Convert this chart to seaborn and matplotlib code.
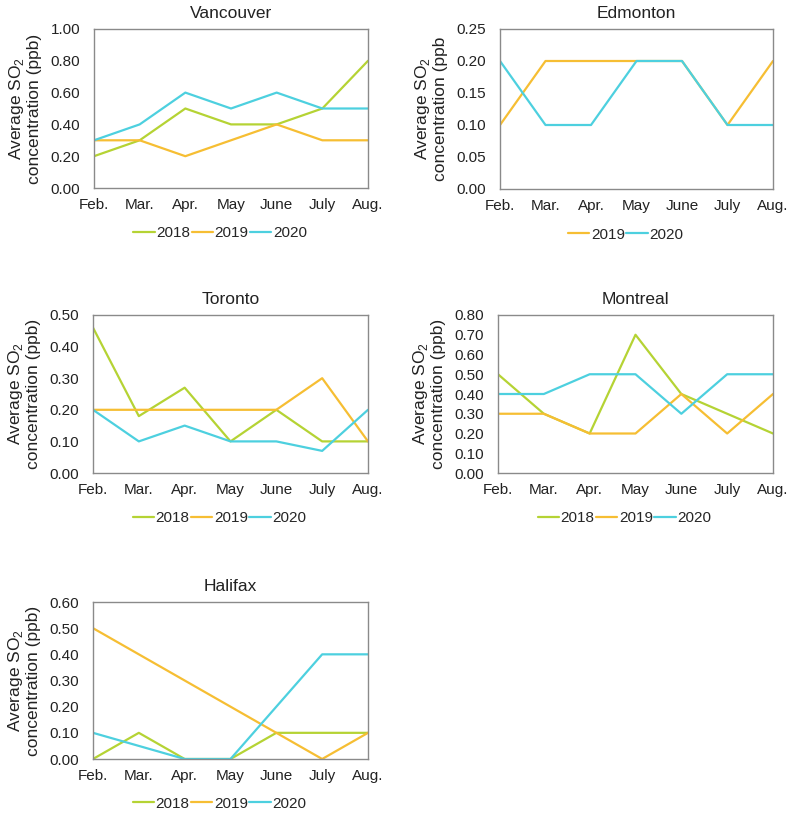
import matplotlib
matplotlib.use("Agg")
import matplotlib.pyplot as plt
import seaborn as sns
import pandas as pd

months = ["Feb.", "Mar.", "Apr.", "May", "June", "July", "Aug."]

vancouver_2018 = [0.20, 0.30, 0.50, 0.40, 0.40, 0.50, 0.80]
vancouver_2019 = [0.30, 0.30, 0.20, 0.30, 0.40, 0.30, 0.30]
vancouver_2020 = [0.30, 0.40, 0.60, 0.50, 0.60, 0.50, 0.50]

edmonton_2019 = [0.10, 0.20, 0.20, 0.20, 0.20, 0.10, 0.20]
edmonton_2020 = [0.20, 0.10, 0.10, 0.20, 0.20, 0.10, 0.10]

toronto_2018 = [0.46, 0.18, 0.27, 0.10, 0.20, 0.10, 0.10]
toronto_2019 = [0.20, 0.20, 0.20, 0.20, 0.20, 0.30, 0.10]
toronto_2020 = [0.20, 0.10, 0.15, 0.10, 0.10, 0.07, 0.20]

montreal_2018 = [0.50, 0.30, 0.20, 0.70, 0.40, 0.30, 0.20]
montreal_2019 = [0.30, 0.30, 0.20, 0.20, 0.40, 0.20, 0.40]
montreal_2020 = [0.40, 0.40, 0.50, 0.50, 0.30, 0.50, 0.50]

halifax_2018 = [0.00, 0.10, 0.00, 0.00, 0.10, 0.10, 0.10]
halifax_2019 = [0.50, 0.40, 0.30, 0.20, 0.10, 0.00, 0.10]
halifax_2020 = [0.10, 0.05, 0.00, 0.00, 0.20, 0.40, 0.40]

palette = {"2018": "#B5D334", "2019": "#F6BE33", "2020": "#4DD0DF"}

panels = [
    ("Vancouver", {"2018": vancouver_2018, "2019": vancouver_2019, "2020": vancouver_2020},
     1.0, 0.2, "concentration (ppb)", (94, 368, 29, 188)),
    ("Edmonton", {"2019": edmonton_2019, "2020": edmonton_2020},
     0.25, 0.05, "concentration (ppb", (500, 773, 29, 189)),
    ("Toronto", {"2018": toronto_2018, "2019": toronto_2019, "2020": toronto_2020},
     0.5, 0.1, "concentration (ppb)", (93, 368, 315, 473)),
    ("Montreal", {"2018": montreal_2018, "2019": montreal_2019, "2020": montreal_2020},
     0.8, 0.1, "concentration (ppb)", (498, 773, 315, 473)),
    ("Halifax", {"2018": halifax_2018, "2019": halifax_2019, "2020": halifax_2020},
     0.6, 0.1, "concentration (ppb)", (93, 368, 602, 759)),
]

sns.set_style("white")
plt.rcParams["font.family"] = ["Liberation Sans", "DejaVu Sans"]
plt.rcParams["mathtext.fontset"] = "custom"
plt.rcParams["mathtext.rm"] = "Liberation Sans"

W, H = 790, 813
fig = plt.figure(figsize=(W / 100, H / 100), dpi=100)

spine_color = "#8a8a8a"
for title, series, ymax, ystep, lab2, (l, r, t, b) in panels:
    ax = fig.add_axes([l / W, 1 - b / H, (r - l) / W, (b - t) / H])
    rows = []
    for yr, vals in series.items():
        for m, v in zip(months, vals):
            rows.append({"month": m, "value": v, "year": yr})
    df = pd.DataFrame(rows)
    sns.lineplot(data=df, x="month", y="value", hue="year", palette=palette,
                 linewidth=1.6, ax=ax, sort=False)
    ax.set_xlim(0, len(months) - 1)
    ax.set_ylim(0, ymax)
    n = int(round(ymax / ystep))
    ticks = [i * ystep for i in range(n + 1)]
    ax.set_yticks(ticks)
    ax.set_yticklabels([f"{v:.2f}" for v in ticks])
    ax.set_xticks(range(len(months)))
    ax.set_xticklabels(months)
    ax.tick_params(axis="both", direction="in", length=3, width=0.8,
                   color=spine_color, labelsize=11, labelcolor="#222222")
    ax.tick_params(axis="y", pad=10)
    ax.tick_params(axis="x", pad=7)
    for s in ax.spines.values():
        s.set_color(spine_color)
        s.set_linewidth(1.0)
        s.set_visible(True)
    ax.set_xlabel("")
    ax.set_ylabel("Average SO$_2$\n" + lab2, fontsize=12.5, color="#222222",
                  linespacing=1.1)
    ax.yaxis.set_label_coords(-0.19, 0.5)
    ax.set_title(title, fontsize=12.5, color="#222222", pad=8)
    handles, labels = ax.get_legend_handles_labels()
    ax.legend(handles, labels, loc="center", bbox_to_anchor=(0.46, -0.285),
              ncol=len(labels), frameon=False, fontsize=11,
              handlelength=1.4, handletextpad=0.1, columnspacing=0.1,
              borderaxespad=0)

fig.savefig("out.png", dpi=100)
